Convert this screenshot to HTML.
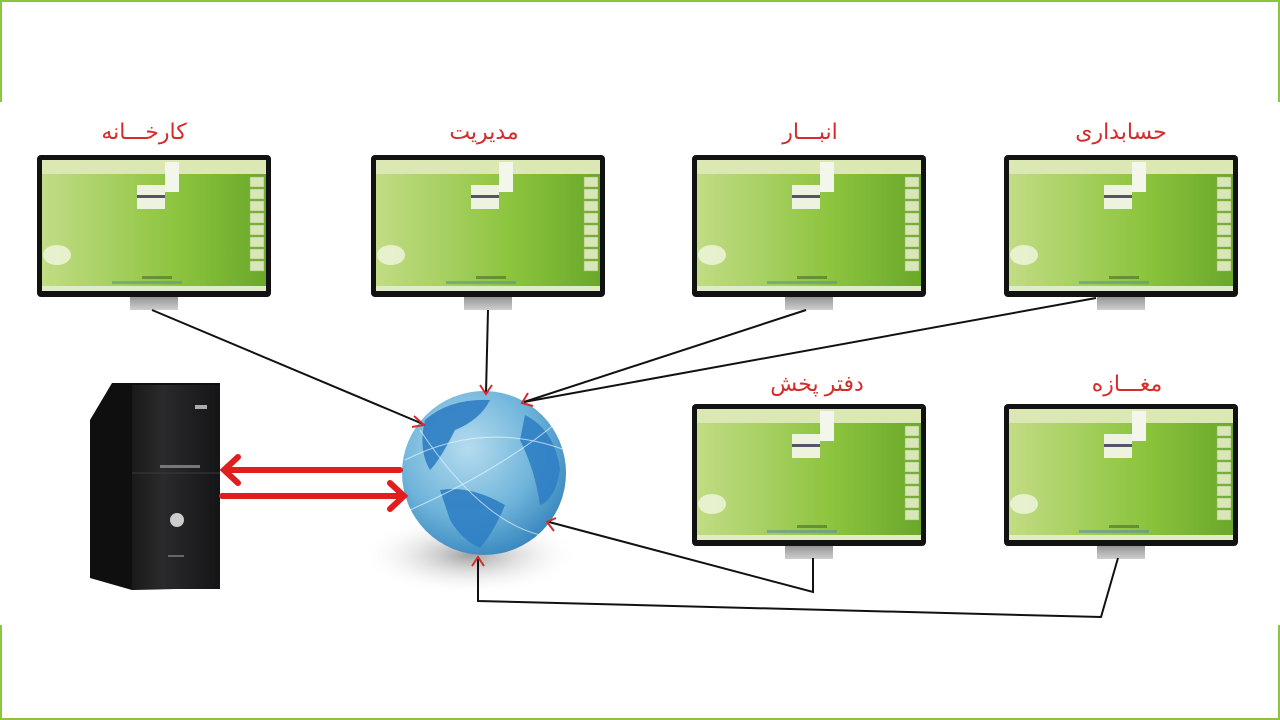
<!DOCTYPE html>
<html><head><meta charset="utf-8"><style>
html,body{margin:0;padding:0;background:#fff;}
svg{display:block;}
text{font-family:"Liberation Sans","DejaVu Sans",sans-serif;font-weight:normal;fill:#d52b2b;font-size:22px;}
</style></head><body>
<svg width="1280" height="720" viewBox="0 0 1280 720" xmlns="http://www.w3.org/2000/svg">
<defs>
<linearGradient id="scr" x1="0" x2="1" y1="0" y2="0">
<stop offset="0" stop-color="#c2dc85"/><stop offset="0.6" stop-color="#8cc43e"/><stop offset="1" stop-color="#6aa82a"/>
</linearGradient>
<linearGradient id="stand" x1="0" x2="0" y1="0" y2="1">
<stop offset="0" stop-color="#8d8d8d"/><stop offset="1" stop-color="#cfcfcf"/>
</linearGradient>
<radialGradient id="glb" cx="0.4" cy="0.35" r="0.7">
<stop offset="0" stop-color="#b5dcef"/><stop offset="0.6" stop-color="#6fb4da"/><stop offset="1" stop-color="#3584bd"/>
</radialGradient>
<radialGradient id="shd" cx="0.5" cy="0.5" r="0.5">
<stop offset="0" stop-color="#777" stop-opacity="0.7"/><stop offset="1" stop-color="#fff" stop-opacity="0"/>
</radialGradient>
<linearGradient id="twr" x1="0" x2="1"><stop offset="0" stop-color="#1a1a1a"/><stop offset="0.35" stop-color="#2a2a2c"/><stop offset="1" stop-color="#151517"/></linearGradient>
<g id="mon">
<rect x="93" y="140" width="48" height="15" fill="url(#stand)"/>
<rect x="0" y="0" width="234" height="142" rx="4" fill="#121212"/>
<rect x="5" y="5" width="224" height="131" fill="url(#scr)"/>
<rect x="5" y="5" width="224" height="14" fill="#dbe8b4"/>
<rect x="128" y="7" width="14" height="30" fill="#f3f6ea"/>
<rect x="100" y="30" width="28" height="24" fill="#eef3e0"/>
<rect x="100" y="40" width="28" height="3" fill="#556"/>
<g fill="#d9e6b8" stroke="#9ab36a" stroke-width="0.5">
<rect x="213" y="22" width="14" height="10"/><rect x="213" y="34" width="14" height="10"/><rect x="213" y="46" width="14" height="10"/><rect x="213" y="58" width="14" height="10"/><rect x="213" y="70" width="14" height="10"/><rect x="213" y="82" width="14" height="10"/><rect x="213" y="94" width="14" height="10"/><rect x="213" y="106" width="14" height="10"/>
</g>
<ellipse cx="20" cy="100" rx="14" ry="10" fill="#eef4dc" opacity="0.85"/>
<rect x="105" y="121" width="30" height="3" fill="#3a5a20" opacity="0.5"/>
<rect x="75" y="126" width="70" height="3" fill="#5f8f9f" opacity="0.6"/>
<rect x="5" y="131" width="224" height="5" fill="#e0ecc6"/>
</g>
</defs>
<rect x="0" y="0" width="1280" height="2" fill="#8cc63f"/>
<rect x="0" y="718" width="1280" height="2" fill="#8cc63f"/>
<rect x="0" y="0" width="2" height="102" fill="#8cc63f"/>
<rect x="1278" y="0" width="2" height="102" fill="#8cc63f"/>
<rect x="0" y="625" width="2" height="95" fill="#8cc63f"/>
<rect x="1278" y="625" width="2" height="95" fill="#8cc63f"/>

<use href="#mon" x="37" y="155"/>
<use href="#mon" x="371" y="155"/>
<use href="#mon" x="692" y="155"/>
<use href="#mon" x="1004" y="155"/>
<use href="#mon" x="692" y="404"/>
<use href="#mon" x="1004" y="404"/>

<text x="144" y="139" text-anchor="middle">کارخـــانه</text>
<text x="484" y="139" text-anchor="middle">مدیریت</text>
<text x="810" y="139" text-anchor="middle">انبـــار</text>
<text x="1121" y="139" text-anchor="middle">حسابداری</text>
<text x="817" y="391" text-anchor="middle">دفتر پخش</text>
<text x="1127" y="391" text-anchor="middle">مغـــازه</text>

<polygon points="90,420 112,383 220,383 220,588 132,590 90,578" fill="#0f0f10"/>
<rect x="132" y="385" width="88" height="204" fill="url(#twr)"/>
<line x1="132" y1="473" x2="220" y2="473" stroke="#3a3a3c" stroke-width="1"/>
<rect x="195" y="405" width="12" height="4" fill="#aaa"/>
<rect x="160" y="465" width="40" height="3" fill="#777"/>
<circle cx="177" cy="520" r="7" fill="#ccc"/>
<rect x="168" y="555" width="16" height="2" fill="#666"/>

<ellipse cx="470" cy="555" rx="110" ry="40" fill="url(#shd)"/>
<circle cx="484" cy="473" r="82" fill="url(#glb)"/>
<g fill="#2f7fc4" opacity="0.9">
<path d="M425,420 Q450,398 490,400 Q480,420 455,430 Q440,460 430,470 Q418,450 425,420Z"/>
<path d="M440,490 Q470,485 505,505 Q495,530 480,548 Q462,540 450,520Z"/>
<path d="M525,415 Q555,430 560,470 Q555,500 540,505 Q535,470 520,440Z"/>
</g>
<g stroke="#e8f6ff" stroke-width="1" fill="none" opacity="0.7">
<path d="M405,460 Q484,420 565,450"/><path d="M410,510 Q500,470 560,420"/><path d="M420,430 Q480,520 540,535"/>
</g>

<g stroke="#111" stroke-width="2" fill="none">
<line x1="152" y1="310" x2="423" y2="424"/>
<line x1="488" y1="310" x2="486" y2="393"/>
<line x1="806" y1="310" x2="524" y2="402"/>
<line x1="1096" y1="298" x2="524" y2="402"/>
<polyline points="813,558 813,592 549,522"/>
<polyline points="1118,558 1101,617 478,601 478,558"/>
</g>
<g stroke="#d52b2b" stroke-width="2" fill="none">
<polyline points="414,416 424,425 412,427"/>
<polyline points="480,385 486,394 492,385"/>
<polyline points="528,393 522,403 533,406"/>
<polyline points="556,518 547,522 554,531"/>
<polyline points="472,566 478,557 484,566"/>
</g>
<g stroke="#e01e1e" stroke-width="6" fill="none" stroke-linecap="round">
<line x1="400" y1="470" x2="226" y2="470"/>
<polyline points="238,457 224,470 238,483"/>
<line x1="222" y1="496" x2="400" y2="496"/>
<polyline points="390,483 404,496 390,509"/>
</g>
</svg>
</body></html>
